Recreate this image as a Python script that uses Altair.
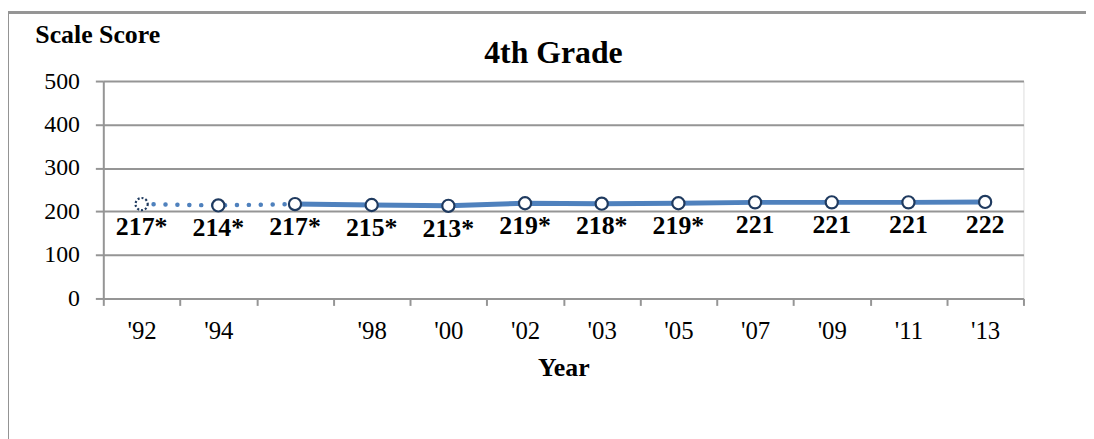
import altair as alt
import pandas as pd

# ---- data ----
categories = ["'92", "'94", " ", "'98", "'00", "'02", "'03", "'05", "'07", "'09", "'11", "'13"]
scores = [217, 214, 217, 215, 213, 219, 218, 219, 221, 221, 221, 222]
score_labels = ["217*", "214*", "217*", "215*", "213*", "219*", "218*", "219*", "221", "221", "221", "222"]
dotted_cats = ["'92", "'94", " "]
solid_cats = categories[2:]
dotted_marker_cats = ["'92"]

df = pd.DataFrame({"cat": categories, "score": scores, "label": score_labels})

FONT = "'Liberation Serif', 'Times New Roman', Times, serif"
LINE = "#4F81BD"
MARK = "#1F3A5F"
GRID = "#959595"

x_enc = alt.X(
    "cat:N",
    sort=categories,
    bandPosition=0.5,
    scale=alt.Scale(type="band", paddingInner=0, paddingOuter=0),
    axis=alt.Axis(
        title="Year",
        titleFont=FONT, titleFontSize=26, titleFontWeight="bold", titleColor="black",
        titleY=78, titleBaseline="alphabetic",
        labelFont=FONT, labelFontSize=25, labelColor="black", labelAngle=0,
        labelPadding=13,
        tickBand="extent", tickSize=7, tickColor=GRID, tickWidth=2,
        domainColor=GRID, domainWidth=2, grid=False,
    ),
)
y_enc = alt.Y(
    "score:Q",
    scale=alt.Scale(domain=[0, 500], nice=False, zero=True),
    axis=alt.Axis(
        values=[0, 100, 200, 300, 400, 500],
        title="Scale Score",
        titleAngle=0, titleAlign="left", titleBaseline="alphabetic",
        titleX=-69, titleY=-39,
        titleFont=FONT, titleFontSize=26, titleFontWeight="bold", titleColor="black",
        labelFont=FONT, labelFontSize=24, labelColor="black", labelPadding=16,
        tickSize=8, tickColor=GRID, tickWidth=2,
        domainColor=GRID, domainWidth=2,
        grid=True, gridColor=GRID, gridWidth=2,
    ),
)

base = alt.Chart(df)

dotted = base.mark_line(
    color=LINE, strokeWidth=4.5, strokeDash=[0.1, 11.9], strokeCap="round"
).encode(x=x_enc, y=y_enc).transform_filter(
    alt.FieldOneOfPredicate(field="cat", oneOf=dotted_cats)
)

solid = base.mark_line(color=LINE, strokeWidth=5).encode(
    x=x_enc, y=y_enc
).transform_filter(alt.FieldOneOfPredicate(field="cat", oneOf=solid_cats))

markers = base.mark_point(
    shape="circle", size=150, filled=False, fill="white", fillOpacity=1,
    stroke=MARK, strokeWidth=2.2, opacity=1,
).encode(x=x_enc, y=y_enc).transform_filter(
    ~alt.FieldOneOfPredicate(field="cat", oneOf=dotted_marker_cats)
)

marker_first = base.mark_point(
    shape="circle", size=150, filled=False, fill="white", fillOpacity=1,
    stroke=MARK, strokeWidth=2.2, strokeDash=[2, 2], opacity=1,
).encode(x=x_enc, y=y_enc).transform_filter(
    alt.FieldOneOfPredicate(field="cat", oneOf=dotted_marker_cats)
)

texts = base.mark_text(
    font=FONT, fontSize=26, fontWeight="bold", color="black",
    baseline="middle", align="center", dy=23,
).encode(x=x_enc, y=y_enc, text="label:N")

border_left = base.mark_rule(color=GRID, strokeWidth=2).encode(
    x=alt.value(-96), y=alt.value(-69), y2=alt.value(420)
)
border_top = base.mark_rule(color=GRID, strokeWidth=2).encode(
    x=alt.value(-96), x2=alt.value(1100), y=alt.value(-69)
)

chart = alt.layer(
    border_left, border_top, dotted, solid, markers, marker_first, texts
).properties(
    width=927,
    height=219,
    title=alt.Title(
        "4th Grade", font=FONT, fontSize=32, fontWeight="bold", color="black",
        anchor="middle", dx=-10, baseline="alphabetic", offset=-84,
    ),
    autosize=alt.AutoSizeParams(type="none"),
    padding={"left": 96, "top": 72, "right": 63, "bottom": 140},
).configure_view(stroke=None).configure(background="white")

chart.save("out.html", embed_options={"renderer": "svg", "actions": False})
